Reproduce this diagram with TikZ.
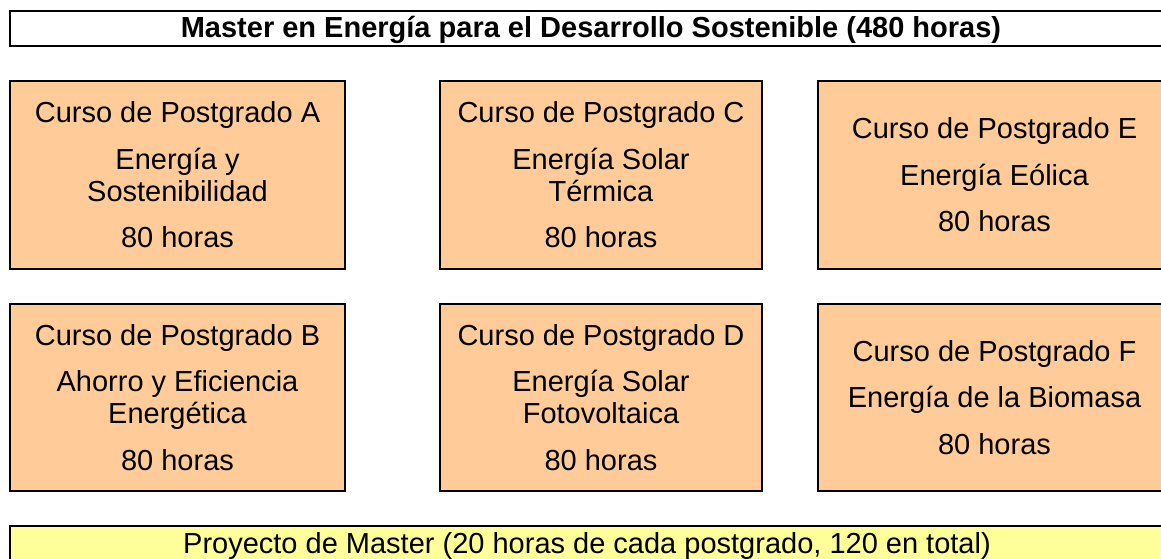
\documentclass[tikz,border=0pt]{standalone}
\usepackage{fontspec}
\setmainfont{Liberation Sans}
\definecolor{coursefill}{HTML}{FFCC99}
\definecolor{projfill}{HTML}{FFFF99}
\tikzset{
  frame/.style={draw=black, line width=1.8pt, rectangle, inner sep=0pt},
  course/.style={frame, fill=coursefill, align=center,
    font=\fontsize{29}{32}\selectfont},
  bar/.style={frame, font=\fontsize{29}{32}\selectfont,
    text height=23pt, text depth=4pt},
}
\begin{document}
\begin{tikzpicture}[x=1pt,y=-1pt]
\useasboundingbox (0,0) rectangle (1161,558);
\clip (0,0) rectangle (1161,558);
\fill[white] (0,0) rectangle (1161,558);
% title bar
\node[bar, fill=white, minimum width=1162pt, minimum height=34.7pt]
  (title) at (591,28.3) {\bfseries Master en Energía para el Desarrollo Sostenible (480 horas)};
% first row
\node[course, minimum width=335pt, minimum height=187.7pt] (A) at (177.5,174.9)
  {Curso de Postgrado A\\[14.5pt]Energía y\\Sostenibilidad\\[14.5pt]80 horas};
\node[course, minimum width=322pt, minimum height=187.7pt] (C) at (601,174.9)
  {Curso de Postgrado C\\[14.5pt]Energía Solar\\Térmica\\[14.5pt]80 horas};
\node[course, minimum width=353pt, minimum height=187.7pt] (E) at (994.5,174.9)
  {Curso de Postgrado E\\[14.5pt]Energía Eólica\\[14.5pt]80 horas};
% second row
\node[course, minimum width=335pt, minimum height=187pt] (B) at (177.5,397.5)
  {Curso de Postgrado B\\[14.5pt]Ahorro y Eficiencia\\Energética\\[14.5pt]80 horas};
\node[course, minimum width=322pt, minimum height=187pt] (D) at (601,397.5)
  {Curso de Postgrado D\\[14.5pt]Energía Solar\\Fotovoltaica\\[14.5pt]80 horas};
\node[course, minimum width=353pt, minimum height=187pt] (F) at (994.5,397.5)
  {Curso de Postgrado F\\[14.5pt]Energía de la Biomasa\\[14.5pt]80 horas};
% project bar
\node[bar, fill=projfill, minimum width=1154pt, minimum height=35pt]
  (proj) at (587,543.5) {Proyecto de Master (20 horas de cada postgrado, 120 en total)};
\end{tikzpicture}
\end{document}
